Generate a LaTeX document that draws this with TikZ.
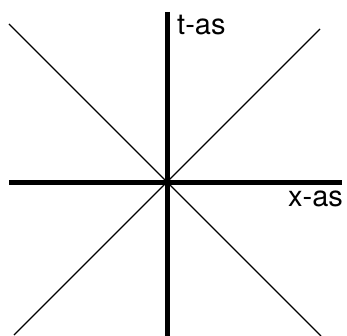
\documentclass[tikz,border=0pt]{standalone}
\usepackage{fontspec}
\setmainfont{TeX Gyre Heros}
\begin{document}
\begin{tikzpicture}[x=1pt,y=-1pt,
  axis/.style={line width=4.6pt},
  diag/.style={line width=1.3pt},
  lbl/.style={anchor=base west,inner sep=0pt,font=\fontsize{29}{29}\selectfont}]
\useasboundingbox (0,0) rectangle (347,336);
\coordinate (ttop) at (167.5,12);
\coordinate (tbot) at (167.5,336);
\coordinate (xl) at (9,182.5);
\coordinate (xr) at (342,182.5);
\coordinate (d1a) at (9,24);
\coordinate (d1b) at (321,336);
\coordinate (d2a) at (320,29);
\coordinate (d2b) at (14,335);
\draw[diag] (d1a) -- (d1b);
\draw[diag] (d2a) -- (d2b);
\draw[axis] (xl) -- (xr);
\draw[axis] (ttop) -- (tbot);
\node[lbl] (tlabel) at (177,35) {t-as};
\node[lbl] (xlabel) at (288,207) {x-as};
\end{tikzpicture}
\end{document}
